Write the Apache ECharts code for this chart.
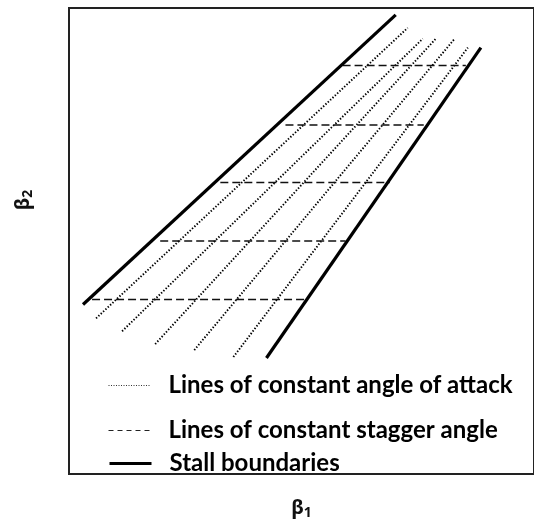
<!DOCTYPE html>
<html>
<head>
<meta charset="utf-8">
<script src="https://cdn.jsdelivr.net/npm/echarts@6/dist/echarts.min.js"></script>
<style>
html,body{margin:0;padding:0;background:#fff;}
#chart{width:534px;height:525px;}
</style>
</head>
<body>
<div id="chart"></div>
<script>
// ---- data (β1, β2 in arbitrary plot units) ----
const legendNames = ['Lines of constant angle of attack', 'Lines of constant stagger angle', 'Stall boundaries'];
const stallUpper = [[14, 171], [326, 463]];
const stallLower = [[197, 117], [411, 430]];
const attackLine1 = [[27, 157], [338, 450]];
const attackLine2 = [[53, 144], [353, 439]];
const attackLine3 = [[86, 131], [366, 439]];
const attackLine4 = [[125, 125], [384, 438]];
const attackLine5 = [[164, 118], [398, 430]];
const staggerLevels = [412, 352, 294, 235, 176];
const staggerStart = [273, 216, 151, 91, 23];
const staggerEnd = [396, 354, 320, 276, 236];

const chart = echarts.init(document.getElementById('chart'), null, {renderer: 'canvas'});

const series = [];
[attackLine1, attackLine2, attackLine3, attackLine4, attackLine5].forEach(function (d) {
  series.push({
    type: 'line', name: legendNames[0], data: d, symbol: 'none', silent: true,
    lineStyle: {color: '#000', width: 1.9, type: [1.4, 1.8]}
  });
});
staggerLevels.forEach(function (y, i) {
  series.push({
    type: 'line', name: legendNames[1], data: [[staggerStart[i], y], [staggerEnd[i], y]], symbol: 'none', silent: true,
    lineStyle: {color: '#111', width: 1.6, type: [8, 4]}
  });
});
[stallUpper, stallLower].forEach(function (d) {
  series.push({
    type: 'line', name: legendNames[2], data: d, symbol: 'none', silent: true,
    lineStyle: {color: '#000', width: 3.2, type: 'solid'}
  });
});

const legendText = {fontFamily: 'Lato', fontWeight: 'bold', fontSize: 24, color: '#000', lineHeight: 26, padding: [0, 0, 7, 13]};
function mkLegend(name, top, ls) {
  return {
    data: [name], left: 108, top: top, orient: 'vertical', padding: 0,
    itemWidth: 42, itemHeight: 14, selectedMode: false,
    itemStyle: {opacity: 0}, lineStyle: ls, textStyle: legendText
  };
}

chart.setOption({
  animation: false,
  backgroundColor: '#fff',
  grid: {left: 69, right: 0, top: 8, bottom: 47, show: true, borderColor: '#222', borderWidth: 2, backgroundColor: 'transparent'},
  xAxis: {
    type: 'value', min: 0, max: 464,
    axisLine: {show: false}, axisTick: {show: false}, axisLabel: {show: false}, splitLine: {show: false},
    name: '{b|β}{s|1}', nameLocation: 'middle', nameGap: 22,
    nameTextStyle: {rich: {
      b: {fontFamily: 'Noto Sans', fontWeight: 'bold', fontSize: 20, color: '#111'},
      s: {fontFamily: 'Noto Sans', fontWeight: 'bold', fontSize: 14, color: '#111', padding: [10, 0, 0, 0]}
    }}
  },
  yAxis: {
    type: 'value', min: 0, max: 470,
    axisLine: {show: false}, axisTick: {show: false}, axisLabel: {show: false}, splitLine: {show: false}
  },
  legend: [
    mkLegend(legendNames[0], 369, {color: '#333', width: 1, type: [1, 1.5]}),
    mkLegend(legendNames[1], 414, {color: '#222', width: 1, type: [5, 4]}),
    mkLegend(legendNames[2], 447, {color: '#000', width: 3, type: 'solid'})
  ],
  graphic: [{
    type: 'text', x: 23, y: 200, rotation: Math.PI / 2,
    style: {
      text: '{b|β}{s|2}', align: 'center', verticalAlign: 'middle',
      rich: {
        b: {fontFamily: 'Noto Sans', fontWeight: 'bold', fontSize: 20, fill: '#111'},
        s: {fontFamily: 'Noto Sans', fontWeight: 'bold', fontSize: 14, fill: '#111', padding: [10, 0, 0, 0]}
      }
    }
  }],
  series: series
});
</script>
</body>
</html>
